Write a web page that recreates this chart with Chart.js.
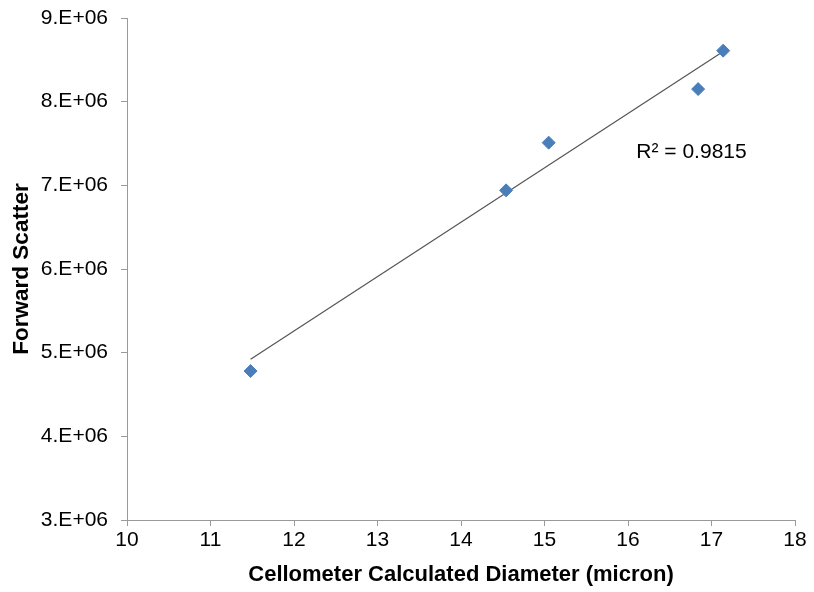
<!DOCTYPE html>
<html>
<head>
<meta charset="utf-8">
<script src="https://cdn.jsdelivr.net/npm/chart.js@4/dist/chart.umd.min.js"></script>
<style>
  body { margin: 0; background: #fff; }
  canvas { display: block; }
</style>
</head>
<body>
<canvas id="myChart" width="814" height="592"></canvas>
<script>
// measured points
const diameter = [11.48, 14.54, 15.05, 16.84, 17.14];
const forwardScatter = [4.78e6, 6.94e6, 7.51e6, 8.15e6, 8.61e6];

// linear trendline ends
const trendX = [11.48, 17.14];
const trendY = [4.92e6, 8.60e6];

const rSquared = 'R\u00B2 = 0.9815';

const pointsData = diameter.map((d, i) => ({ x: d, y: forwardScatter[i] }));
const trendData = trendX.map((d, i) => ({ x: d, y: trendY[i] }));

const axisGray = '#9a9a9a';
const fontFamily = '"Liberation Sans", Arial, sans-serif';

const r2Label = {
    id: 'r2Label',
    afterDraw(chart) {
        const ctx = chart.ctx;
        const xs = chart.scales.x, ys = chart.scales.y;
        ctx.save();
        ctx.font = '21px ' + fontFamily;
        ctx.fillStyle = '#000';
        ctx.textAlign = 'left';
        ctx.textBaseline = 'middle';
        ctx.fillText(rSquared, xs.getPixelForValue(16.1), ys.getPixelForValue(7.4e6));
        ctx.restore();
    }
};

const ctx = document.getElementById('myChart').getContext('2d');
new Chart(ctx, {
    type: 'scatter',
    data: {
        datasets: [{
            label: 'Forward Scatter',
            data: pointsData,
            pointStyle: 'rectRot',
            pointRadius: 6.5,
            backgroundColor: '#4a7ebb',
            borderColor: '#4a7ebb',
            borderWidth: 1,
            order: 1
        }, {
            label: 'Linear',
            data: trendData,
            showLine: true,
            borderColor: '#555555',
            borderWidth: 1.2,
            pointRadius: 0,
            fill: false,
            order: 2
        }]
    },
    options: {
        responsive: false,
        animation: false,
        layout: { padding: 0 },
        plugins: {
            legend: { display: false },
            tooltip: { enabled: false }
        },
        scales: {
            x: {
                type: 'linear',
                min: 10,
                max: 18,
                afterFit: s => {
                    s.height = 72;
                    s.paddingLeft = 0;
                    s.paddingRight = 19;
                },
                ticks: {
                    stepSize: 1,
                    color: '#000',
                    padding: 2,
                    font: { family: fontFamily, size: 21 }
                },
                grid: { drawOnChartArea: false, tickLength: 6, color: axisGray },
                border: { color: axisGray, width: 1 },
                title: {
                    display: true,
                    text: 'Cellometer Calculated Diameter (micron)',
                    color: '#000',
                    padding: { top: 0, bottom: 4 },
                    font: { family: fontFamily, size: 22, weight: 'bold' }
                }
            },
            y: {
                type: 'linear',
                min: 3e6,
                max: 9e6,
                afterFit: s => {
                    s.width = 127;
                    s.paddingTop = 18;
                    s.paddingBottom = 0;
                },
                ticks: {
                    stepSize: 1e6,
                    color: '#000',
                    padding: 13,
                    font: { family: fontFamily, size: 21 },
                    callback: v => (v / 1e6) + '.E+06'
                },
                grid: { drawOnChartArea: false, tickLength: 6, color: axisGray },
                border: { color: axisGray, width: 1 },
                title: {
                    display: true,
                    text: 'Forward Scatter',
                    color: '#000',
                    padding: { top: 8, bottom: 0 },
                    font: { family: fontFamily, size: 22.5, weight: 'bold' }
                }
            }
        }
    },
    plugins: [r2Label]
});
</script>
</body>
</html>
